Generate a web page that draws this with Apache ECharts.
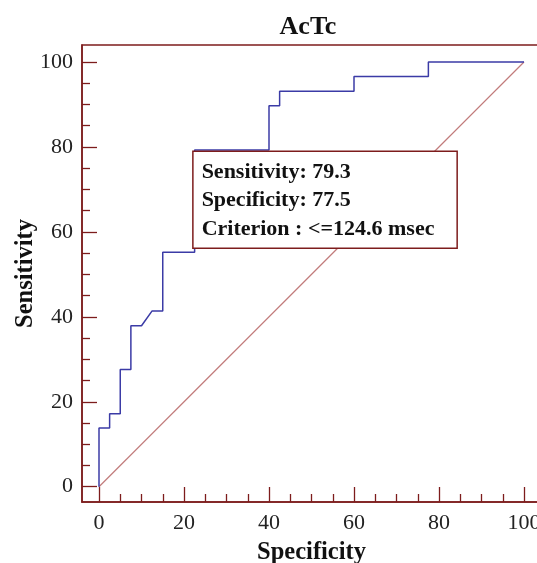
<!DOCTYPE html>
<html>
<head>
<meta charset="utf-8">
<script src="https://cdn.jsdelivr.net/npm/echarts@6/dist/echarts.min.js"></script>
<style>
  html, body { margin: 0; padding: 0; background: #fff; }
  #chart { width: 537px; height: 563px; }
</style>
</head>
<body>
<div id="chart"></div>
<script>
// ROC curve (x = 100 - specificity, y = sensitivity)
const rocX = [0, 0, 2.5, 2.5, 5, 5, 7.5, 7.5, 10, 12.5, 15, 15, 22.5, 22.5, 40, 40, 42.5, 42.5, 60, 60, 77.5, 77.5, 100];
const rocY = [0, 13.8, 13.8, 17.2, 17.2, 27.6, 27.6, 37.9, 37.9, 41.4, 41.4, 55.2, 55.2, 79.3, 79.3, 89.7, 89.7, 93.1, 93.1, 96.6, 96.6, 100, 100];
const diagX = [0, 100];
const diagY = [0, 100];
const criterionPoint = [22.5, 79.3];
const boxLines = ["Sensitivity: 79.3", "Specificity: 77.5", "Criterion : <=124.6 msec"];
const majorTicks = [0, 20, 40, 60, 80, 100];
const minorTicks = [5, 10, 15, 25, 30, 35, 45, 50, 55, 65, 70, 75, 85, 90, 95];

const axisColor = "#7d1c1c";
const font = "Liberation Serif";

const chart = echarts.init(document.getElementById("chart"));

const mainAxis = (name, pos) => ({
  type: "value",
  position: pos,
  name: name,
  nameLocation: "middle",
  nameMoveOverlap: false,
  nameTextStyle: { fontFamily: font, fontWeight: "bold", fontSize: 24.5, color: "#111" },
  axisLine: { onZero: false, lineStyle: { color: axisColor, width: 1.5 } },
  axisTick: { inside: true, length: 15, customValues: majorTicks, lineStyle: { color: axisColor, width: 1.3 } },
  axisLabel: { customValues: majorTicks, fontFamily: font, fontSize: 22, color: "#222" },
  splitLine: { show: false },
});

const minorAxis = (pos) => ({
  type: "value",
  position: pos,
  axisLine: { show: false, onZero: false },
  axisTick: { inside: true, length: 8, customValues: minorTicks, lineStyle: { color: axisColor, width: 1.3 } },
  axisLabel: { show: false },
  splitLine: { show: false },
});

const xMain = mainAxis("Specificity", "bottom");
xMain.min = -4; xMain.max = 104; xMain.nameGap = 38;
xMain.axisLabel.margin = 10;
const xMinor = minorAxis("bottom");
xMinor.min = -4; xMinor.max = 104;

const yMain = mainAxis("Sensitivity", "left");
yMain.min = -3.6; yMain.max = 104; yMain.nameGap = 44;
yMain.axisLabel.margin = 9;
const yMinor = minorAxis("left");
yMinor.min = -3.6; yMinor.max = 104;

const option = {
  animation: false,
  title: {
    text: "AcTc",
    left: 303,
    textAlign: "center",
    top: 9,
    textStyle: { fontFamily: font, fontWeight: "bold", fontSize: 26, color: "#111" },
  },
  grid: {
    left: 82,
    top: 45,
    width: 459,
    height: 457,
    show: true,
    borderColor: axisColor,
    borderWidth: 1.5,
    containLabel: false,
    outerBoundsMode: "none",
  },
  xAxis: [xMain, xMinor],
  yAxis: [yMain, yMinor],
  series: [
    {
      type: "line",
      data: diagX.map((x, i) => [x, diagY[i]]),
      showSymbol: false,
      lineStyle: { color: "#c27c7c", width: 1.2 },
      silent: true,
    },
    {
      type: "line",
      data: rocX.map((x, i) => [x, rocY[i]]),
      showSymbol: false,
      lineStyle: { color: "#3b3ba6", width: 1.5 },
      silent: true,
    },
  ],
};

chart.setOption(option);

// annotation box anchored at the criterion point
const p = chart.convertToPixel({ gridIndex: 0 }, criterionPoint);
chart.setOption({
  graphic: [
    {
      type: "text",
      x: p[0] - 1,
      y: p[1] + 2,
      z: 100,
      style: {
        text: boxLines.join("\n"),
        font: 'bold 22px "Liberation Serif"',
        fill: "#111",
        lineHeight: 28.5,
        backgroundColor: "#fff",
        borderColor: axisColor,
        borderWidth: 1.5,
        padding: [6, 22, 4, 8],
      },
    },
  ],
});
</script>
</body>
</html>
